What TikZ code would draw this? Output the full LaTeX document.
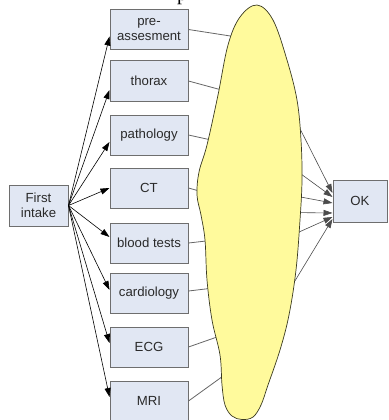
\documentclass[tikz,border=0pt]{standalone}
\usepackage{fontspec}
\setmainfont{Liberation Sans}
\newfontfamily\seriffont{Liberation Serif}
\usetikzlibrary{arrows.meta,calc}
\definecolor{boxfill}{HTML}{E1E7F3}
\definecolor{boxline}{HTML}{6E6E6E}
\definecolor{blobfill}{HTML}{FFFA9C}
\definecolor{blobline}{HTML}{3A3A20}
\definecolor{txt}{HTML}{2A2A2A}
\begin{document}
\begin{tikzpicture}[x=1pt,y=-1pt,
  dept/.style={draw=boxline, line width=1pt, fill=boxfill,
    minimum width=78pt, minimum height=40pt, inner sep=0pt,
    font=\fontsize{13.2}{15}\selectfont, text=txt, align=center},
  feed/.style={-{Triangle[length=9pt,width=6pt]}, black, line width=0.6pt},
  link/.style={draw=black!60, line width=0.8pt},
  blob/.style={draw=blobline, line width=0.7pt, fill=blobfill}]
\useasboundingbox (0,0) rectangle (388,420);

% partly visible heading letter
\node[anchor=base west, inner sep=0pt, font=\seriffont\fontsize{20}{22}\selectfont]
  (head) at (177,0.5) {p};

% start and finish
\node[dept, minimum width=59pt, minimum height=41pt] (first) at (38.5,205.5) {First\\intake};
\node[dept, minimum width=54pt, minimum height=42pt] (ok) at (360,201) {OK};

% departments
\node[dept] (pre)   at (149,29.5)  {pre-\\assesment};
\node[dept] (thor)  at (149,81)    {thorax};
\node[dept] (path)  at (149,135)   {pathology};
\node[dept] (ct)    at (149,188)   {CT};
\node[dept] (blood) at (149,243)   {blood tests};
\node[dept] (card)  at (149,293)   {cardiology};
\node[dept] (ecg)   at (149,347)   {ECG};
\node[dept] (mri)   at (149,401)   {MRI};

% intake fans out to every department
\draw[feed] (first.east) -- ($(pre.west)+(0,7)$);
\draw[feed] (first.east) -- ($(thor.west)+(0,9)$);
\draw[feed] (first.east) -- ($(path.west)+(0,7)$);
\draw[feed] (first.east) -- ($(ct.west)+(0,0)$);
\draw[feed] (first.east) -- ($(blood.west)+(0,-6)$);
\draw[feed] (first.east) -- ($(card.west)+(0,-3)$);
\draw[feed] (first.east) -- ($(ecg.west)+(0,-4)$);
\draw[feed] (first.east) -- ($(mri.west)+(0,-4)$);

% ends of the connectors hidden under the cloud
\coordinate (inPre)   at (240,37.5);
\coordinate (inThor)  at (229,92);
\coordinate (inPath)  at (218,141.5);
\coordinate (inCt)    at (210,194);
\coordinate (inBlood) at (215,240);
\coordinate (inCard)  at (218,287.5);
\coordinate (inEcg)   at (227,333.5);
\coordinate (inMri)   at (228,372.5);

\coordinate (outA) at (290,109);
\coordinate (outB) at (290,166);
\coordinate (outC) at (290,195);
\coordinate (outD) at (290,212.5);
\coordinate (outE) at (288,237);
\coordinate (outF) at (287,294);

\draw[link] (pre.east)   -- (inPre);
\draw[link] (thor.east)  -- (inThor);
\draw[link] (path.east)  -- (inPath);
\draw[link] (ct.east)    -- (inCt);
\draw[link] (blood.east) -- (inBlood);
\draw[link] ($(card.east)+(0,-2)$)  -- (inCard);
\draw[link] (ecg.east)   -- (inEcg);
\draw[link] (mri.east)   -- (inMri);

\draw[feed, draw=black!70] (outA) -- ($(ok.west)+(0,-8)$);
\draw[feed, draw=black!70] (outB) -- ($(ok.west)+(0,-4)$);
\draw[feed, draw=black!70] (outC) -- ($(ok.west)+(0,2)$);
\draw[feed, draw=black!70] (outD) -- ($(ok.west)+(0,12)$);
\draw[feed, draw=black!70] (outE) -- ($(ok.west)+(0,16)$);
\draw[feed, draw=black!70] (outF) -- ($(ok.west)+(0,18)$);

% the cloud covering the hand-over
\draw[blob] plot[smooth cycle, tension=0.6] coordinates {
  (257,5) (273,20) (287,60) (297,100) (301,140) (302,180) (300,220)
  (296,270) (289,315) (280,350) (268,385) (261,405) (253,417)
  (242,419.5) (232,416) (225,405) (222,385) (220,355) (212,320)
  (207,280) (205,240) (201,215) (197,195) (199,172) (207,145)
  (218,95) (228,45) (240,17)};
\end{tikzpicture}
\end{document}
